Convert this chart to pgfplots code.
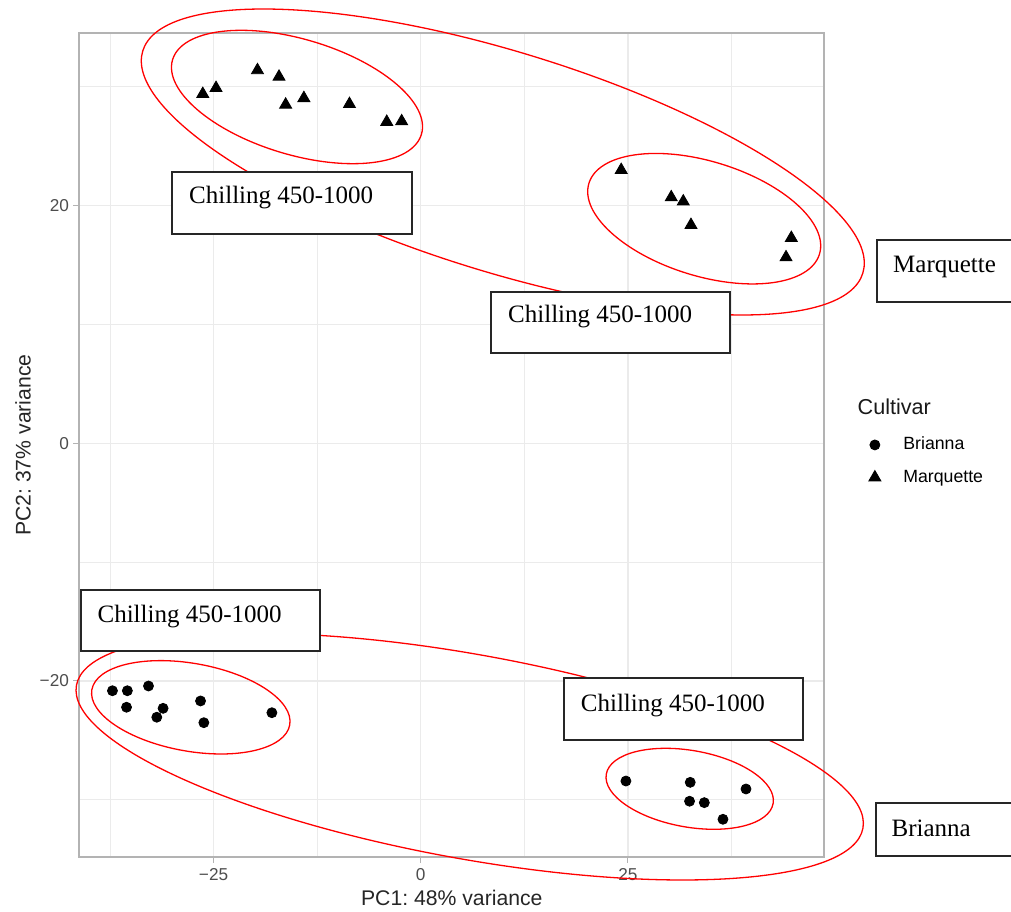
\documentclass[border=0pt]{standalone}
\usepackage{pgfplots}
\pgfplotsset{compat=1.18}
\usepackage{pgfplotstable}
\usepackage{fontspec}
\setmainfont{Liberation Sans}
\newfontfamily\boxfont{Liberation Serif}
\definecolor{gridc}{HTML}{EBEBEB}
\definecolor{borderc}{HTML}{B3B3B3}
\definecolor{tickc}{HTML}{4D4D4D}
\definecolor{boxline}{HTML}{262626}
\frenchspacing

\pgfplotstableread{
x y
-37.2 -20.83
-35.4 -20.83
-32.85 -20.43
-35.5 -22.22
-31.09 -22.31
-31.85 -23.06
-26.57 -21.69
-26.17 -23.52
-17.96 -22.68
24.76 -28.43
32.52 -28.54
39.25 -29.10
32.44 -30.13
34.22 -30.25
36.47 -31.65
}\brianna

\pgfplotstableread{
x y
-26.3 29.40
-24.7 29.90
-19.7 31.40
-17.1 30.85
-16.3 28.50
-14.1 29.05
-8.6 28.55
-4.1 27.05
-2.3 27.10
24.19 23.00
30.23 20.70
31.68 20.35
32.61 18.37
44.72 17.28
44.08 15.65
}\marquette

\newcommand\boxtext{\boxfont\fontsize{12.5}{14}\selectfont}

\begin{document}
\begin{tikzpicture}
\useasboundingbox (-39.65pt,-27.15pt) rectangle (465.85pt,428.35pt);
\begin{axis}[
  at={(0pt,0pt)}, anchor=south west,
  scale only axis, width=372.5pt, height=411.65pt,
  xmin=-41.2, xmax=48.7, ymin=-34.8, ymax=34.5,
  xtick={-25,0,25}, xticklabels={−25,0,25},
  ytick={-20,0,20}, yticklabels={−20,0,20},
  minor xtick={-37.5,-12.5,12.5,37.5},
  minor ytick={-30,-10,10,30},
  grid=both,
  major grid style={draw=gridc, line width=0.7pt},
  minor grid style={draw=gridc, line width=0.45pt},
  axis line style={draw=borderc, line width=1.1pt},
  tick pos=left, tick align=outside,
  major tick length=3pt, minor tick length=0pt,
  every tick/.style={draw=borderc, line width=0.5pt},
  tick label style={font=\fontsize{8.6}{10}\selectfont, text=tickc, inner sep=0pt},
  xticklabel style={anchor=base, yshift=-8.9pt},
  yticklabel style={anchor=east, xshift=-2pt},
  xlabel={PC1: 48\% variance},
  ylabel={PC2: 37\% variance},
  label style={font=\fontsize{10.6}{12}\selectfont, text=black!85},
  xlabel style={at={(axis description cs:0.5,0)}, anchor=base, yshift=-24.15pt},
  ylabel style={at={(axis description cs:-0.0756,0.5)}, anchor=center},
  legend style={draw=none, fill=none, at={(axis description cs:1.0593,0.4806)}, anchor=west,
    font=\fontsize{8.85}{10}\selectfont, row sep=8.5pt, column sep=11.25pt, inner sep=0pt,
    nodes={inner sep=0pt}},
  legend image code/.code={\draw[#1] plot coordinates {(0pt,0pt)};},
  legend cell align=left,
]
\addplot[only marks, mark=*, mark size=2.5pt, black] table {\brianna};
\addlegendentry{Brianna}
\addplot[only marks, mark=triangle*, mark size=3.46pt, black] table {\marquette};
\addlegendentry{Marquette}
\end{axis}
% ellipses
\begin{scope}[red, line width=0.65pt]
\draw[shift={(108.85pt,379.85pt)}, rotate=-16.7] (0,0) ellipse [x radius=64.95pt, y radius=28.85pt];
\draw[shift={(211.75pt,347.35pt)}, rotate=-17.16] (0,0) ellipse [x radius=188.4pt, y radius=55pt];
\draw[shift={(312.45pt,319.0pt)}, rotate=-17.1] (0,0) ellipse [x radius=60.3pt, y radius=28.65pt];
\draw[shift={(55.75pt,74.7pt)}, rotate=-10.1] (0,0) ellipse [x radius=50.25pt, y radius=21.95pt];
\draw[shift={(195.2pt,50.0pt)}, rotate=-10.3] (0,0) ellipse [x radius=199.85pt, y radius=51.05pt];
\draw[shift={(305.2pt,33.95pt)}, rotate=-10] (0,0) ellipse [x radius=42.35pt, y radius=19.15pt];
\end{scope}
% boxes
\begin{scope}[line width=0.9pt]
\filldraw[fill=white, draw=boxline] (46.5pt,311.35pt) rectangle (166.2pt,342.2pt);
\node[anchor=base west, inner sep=0pt, font=\boxtext] at (54.5pt,326.35pt) {Chilling 450-1000};
\filldraw[fill=white, draw=boxline] (205.85pt,251.7pt) rectangle (325.35pt,282.2pt);
\node[anchor=base west, inner sep=0pt, font=\boxtext] at (214pt,266.85pt) {Chilling 450-1000};
\fill[white] (398.7pt,277.35pt) rectangle (465.85pt,308.35pt);
\draw[boxline] (465.85pt,308.35pt) -- (398.7pt,308.35pt) -- (398.7pt,277.35pt) -- (465.85pt,277.35pt);
\node[anchor=base west, inner sep=0pt, font=\boxtext] at (406.5pt,291.85pt) {Marquette};
\filldraw[fill=white, draw=boxline] (0.85pt,102.85pt) rectangle (120.35pt,133.35pt);
\node[anchor=base west, inner sep=0pt, font=\boxtext] at (8.7pt,117.2pt) {Chilling 450-1000};
\filldraw[fill=white, draw=boxline] (242.5pt,58.35pt) rectangle (362pt,89.2pt);
\node[anchor=base west, inner sep=0pt, font=\boxtext] at (250.35pt,72.5pt) {Chilling 450-1000};
\fill[white] (398.2pt,0.5pt) rectangle (465.85pt,26.7pt);
\draw[boxline] (465.85pt,26.7pt) -- (398.2pt,26.7pt) -- (398.2pt,0.5pt) -- (465.85pt,0.5pt);
\node[anchor=base west, inner sep=0pt, font=\boxtext] at (405.7pt,10.35pt) {Brianna};
\end{scope}
\node[anchor=west, inner sep=0pt, font=\fontsize{10.8}{12}\selectfont, text=black!90] at (389pt,225pt) {Cultivar};
\end{tikzpicture}
\end{document}
